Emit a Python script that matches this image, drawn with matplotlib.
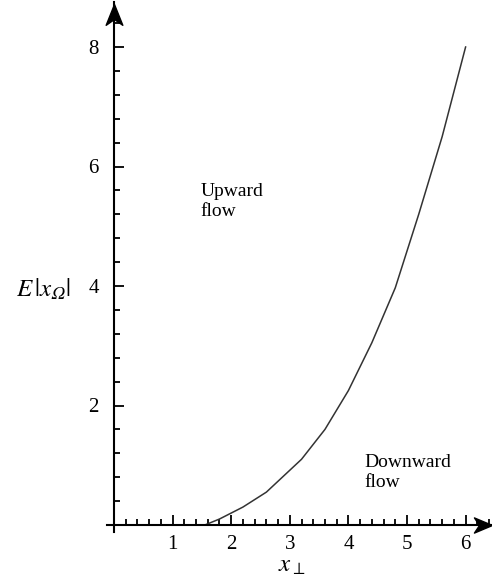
import matplotlib
matplotlib.use("Agg")
import matplotlib.pyplot as plt
from matplotlib.path import Path
from matplotlib.ticker import MultipleLocator

plt.rcParams["font.family"] = ["Liberation Serif", "DejaVu Serif"]
plt.rcParams["mathtext.fontset"] = "stix"

# boundary curve between upward and downward flow
x_perp = [1.55, 1.8, 2.2, 2.6, 3.2, 3.6, 4.0, 4.4, 4.8, 5.2, 5.6, 6.0]
e_x_omega = [0.0, 0.1, 0.3, 0.55, 1.1, 1.6, 2.25, 3.05, 3.97, 5.2, 6.5, 8.0]

x_ticks = [1, 2, 3, 4, 5, 6]
y_ticks = [2, 4, 6, 8]

X0, X1 = -0.12, 6.45
Y0, Y1 = -0.12, 8.75
PX_X, PX_Y = 58.6, 59.75  # pixels per data unit

fig = plt.figure(figsize=(4.92, 5.8), dpi=100)
left = 114 + X0 * PX_X
bottom = 525 - Y0 * PX_Y
ax = fig.add_axes([left / 492, (580 - bottom) / 580,
                   (X1 - X0) * PX_X / 492, (Y1 - Y0) * PX_Y / 580])
ax.set_xlim(X0, X1)
ax.set_ylim(Y0, Y1)

ax.plot(x_perp, e_x_omega, color="#333333", linewidth=1.1)

for side in ["top", "right"]:
    ax.spines[side].set_visible(False)
ax.spines["left"].set_position(("data", 0))
ax.spines["bottom"].set_position(("data", 0))
ax.spines["left"].set_linewidth(1.5)
ax.spines["bottom"].set_linewidth(1.5)

# stealth arrow heads, tip at the marker position
arrow_right = Path([(0, 0), (-1, 0.42), (-0.72, 0), (-1, -0.42), (0, 0)],
                   [Path.MOVETO, Path.LINETO, Path.LINETO, Path.LINETO, Path.CLOSEPOLY])
arrow_up = Path([(0, 0), (0.4, -1), (0, -0.72), (-0.4, -1), (0, 0)],
                [Path.MOVETO, Path.LINETO, Path.LINETO, Path.LINETO, Path.CLOSEPOLY])
ax.plot(X1, 0, marker=arrow_right, color="black", markersize=26, clip_on=False)
ax.plot(0, Y1 - 0.03, marker=arrow_up, color="black", markersize=30, clip_on=False)

ax.set_xticks(x_ticks)
ax.set_yticks(y_ticks)
ax.xaxis.set_minor_locator(MultipleLocator(0.2))
ax.yaxis.set_minor_locator(MultipleLocator(0.4))
ax.tick_params(which="major", direction="in", length=7, width=1.3, labelsize=15, pad=7)
ax.tick_params(which="minor", direction="in", length=4.5, width=1.3)
ax.tick_params(axis="y", which="major", pad=11)

ax.text(1.47, 5.72, "Upward\nflow", fontsize=14, ha="left", va="top", linespacing=1.2)
ax.text(4.28, 1.18, "Downward\nflow", fontsize=14, ha="left", va="top", linespacing=1.2)

fig.text(43 / 492, 1 - 289 / 580, "$E\\,|x_{\U0001D6FA}|$", fontsize=18, ha="center", va="center")
fig.text(292 / 492, 1 - 566 / 580, r"$x_{\perp}$", fontsize=18, ha="center", va="center")

fig.savefig("out.png", dpi=100)
